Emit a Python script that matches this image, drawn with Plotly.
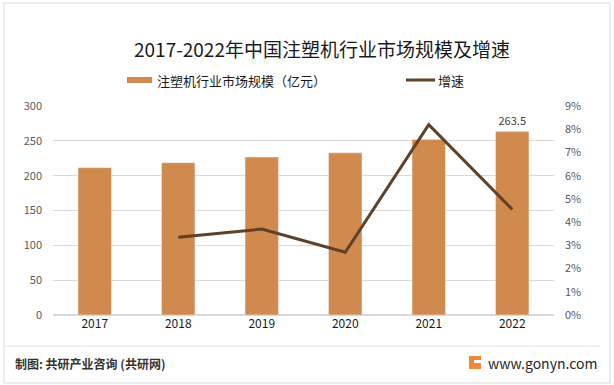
import plotly.graph_objects as go

years = ["2017", "2018", "2019", "2020", "2021", "2022"]
market_size = [211.5, 218.6, 226.7, 232.8, 252.0, 263.5]
growth_years = ["2018", "2019", "2020", "2021", "2022"]
growth_pct = [3.35, 3.7, 2.7, 8.2, 4.55]
left_ticks = [0, 50, 100, 150, 200, 250, 300]
right_ticks = [0, 1, 2, 3, 4, 5, 6, 7, 8, 9]

title_text = "2017-2022年中国注塑机行业市场规模及增速"
bar_name = "注塑机行业市场规模（亿元）"
line_name = "增速"
footer_left = "制图: 共研产业咨询 (共研网)"
footer_right = "www.gonyn.com"

BAR = "#D08A4E"
LINE = "#5E4128"
FONT = "Noto Sans CJK SC"

W, H = 614, 385
ML, MR, MT, MB = 53, 60, 106, 70

fig = go.Figure()
fig.add_trace(go.Bar(
    x=years, y=market_size, name=bar_name, marker_color=BAR,
    yaxis="y", showlegend=False,
    text=[""] * (len(years) - 1) + [f"{market_size[-1]:.1f}"],
    textposition="outside", cliponaxis=False,
    textfont=dict(size=11, color="#404040", family=FONT),
))
fig.add_trace(go.Scatter(
    x=growth_years, y=growth_pct, name=line_name, mode="lines",
    line=dict(color=LINE, width=3), yaxis="y2", showlegend=False,
))

fig.update_layout(
    width=W, height=H,
    margin=dict(l=ML, r=MR, t=MT, b=MB, autoexpand=False),
    paper_bgcolor="white", plot_bgcolor="white",
    font=dict(family=FONT, color="#404040"),
    bargap=0.6,
    xaxis=dict(type="category", showgrid=False, showline=False, ticks="",
               tickfont=dict(size=12, color="#1a1a1a", family=FONT)),
    yaxis=dict(range=[0, 300], tickvals=left_ticks, showgrid=True,
               gridcolor="#D9D9D9", gridwidth=1, zeroline=True, zerolinecolor="#D9D9D9",
               showline=False, ticks="", ticklabelstandoff=10,
               tickfont=dict(size=11, color="#595959", family=FONT)),
    yaxis2=dict(range=[0, 9], tickvals=right_ticks,
                ticktext=[f"{v}%" for v in right_ticks], overlaying="y", side="right",
                showgrid=False, zeroline=False, showline=False, ticks="",
                ticklabelstandoff=10,
                tickfont=dict(size=11, color="#595959", family=FONT)),
    showlegend=False,
)

def cx(x):
    return (x - ML) / (W - ML - MR)

def cy(y):
    return (H - MB - y) / (H - MT - MB)

shape_list = [
    dict(type="rect", xref="paper", yref="paper", x0=cx(4), x1=cx(610), y0=cy(383), y1=cy(3),
         line=dict(color="#D9D9D9", width=1), layer="below"),
    dict(type="line", xref="paper", yref="paper", x0=cx(5), x1=cx(600), y0=cy(346), y1=cy(346),
         line=dict(color="#E3E3E3", width=1)),
    dict(type="rect", xref="paper", yref="paper", x0=cx(127), x1=cx(152), y0=cy(83), y1=cy(77),
         fillcolor=BAR, line=dict(width=0)),
    dict(type="line", xref="paper", yref="paper", x0=cx(406), x1=cx(435), y0=cy(80), y1=cy(80),
         line=dict(color=LINE, width=3)),
    dict(type="rect", xref="paper", yref="paper", x0=cx(469), x1=cx(481), y0=cy(369), y1=cy(356),
         fillcolor="#F0883A", line=dict(width=0)),
    dict(type="rect", xref="paper", yref="paper", x0=cx(474), x1=cx(481), y0=cy(363), y1=cy(360),
         fillcolor="white", line=dict(width=0)),
]
fig.update_layout(shapes=shape_list)

annotations = [
    dict(text=title_text, xref="paper", yref="paper", x=cx(322), y=cy(48),
         xanchor="center", yanchor="middle", showarrow=False,
         font=dict(size=19, color="#1a1a1a", family=FONT)),
    dict(text=bar_name, xref="paper", yref="paper", x=cx(155), y=cy(80),
         xanchor="left", yanchor="middle", showarrow=False,
         font=dict(size=13, color="#1a1a1a", family=FONT)),
    dict(text=line_name, xref="paper", yref="paper", x=cx(436), y=cy(80),
         xanchor="left", yanchor="middle", showarrow=False,
         font=dict(size=13, color="#1a1a1a", family=FONT)),
    dict(text="<b>" + footer_left + "</b>", xref="paper", yref="paper", x=cx(13), y=cy(363),
         xanchor="left", yanchor="middle", showarrow=False,
         font=dict(size=12, color="#333333", family=FONT)),
    dict(text=footer_right, xref="paper", yref="paper", x=cx(599), y=cy(363),
         xanchor="right", yanchor="middle", showarrow=False,
         font=dict(size=14, color="#262626", family=FONT)),
]
fig.update_layout(annotations=annotations)

fig.write_html("out.html", config={"displayModeBar": False},
               post_script="document.body.style.margin='0';document.body.style.overflow='hidden';")
